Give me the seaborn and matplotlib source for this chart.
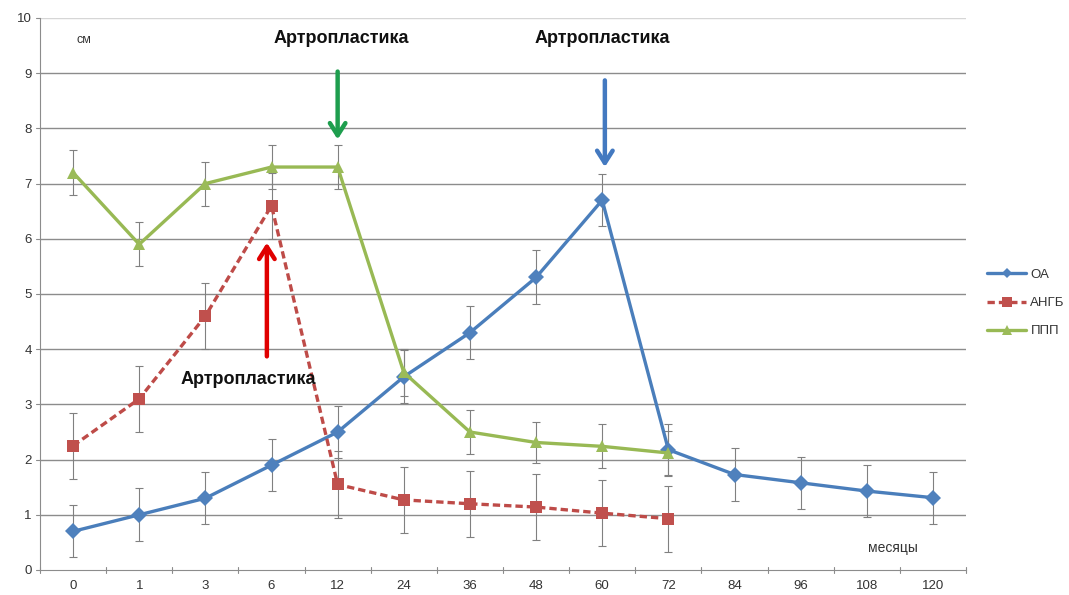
import numpy as np
import pandas as pd
import matplotlib
matplotlib.use("Agg")
import matplotlib.pyplot as plt
import seaborn as sns
from matplotlib.lines import Line2D

months = ["0", "1", "3", "6", "12", "24", "36", "48", "60", "72", "84", "96", "108", "120"]

oa = [0.7, 1.0, 1.3, 1.9, 2.5, 3.5, 4.3, 5.3, 6.7, 2.18, 1.73, 1.58, 1.43, 1.31]
oa_err = [0.47, 0.48, 0.47, 0.47, 0.48, 0.48, 0.48, 0.49, 0.47, 0.47, 0.48, 0.47, 0.47, 0.47]

angb = [2.25, 3.1, 4.6, 6.6, 1.55, 1.27, 1.2, 1.14, 1.03, 0.93]
angb_err = [0.6, 0.6, 0.6, 0.6, 0.6, 0.6, 0.6, 0.6, 0.6, 0.6]

ppp = [7.2, 5.9, 7.0, 7.3, 7.3, 3.58, 2.5, 2.31, 2.24, 2.12]
ppp_err = [0.4, 0.4, 0.4, 0.4, 0.4, 0.42, 0.4, 0.38, 0.4, 0.4]

series_names = ["ОА", "АНГБ", "ППП"]
colors = {"ОА": "#4A7EBB", "АНГБ": "#BE4B48", "ППП": "#98B954"}
marker_colors = {"ОА": "#4F81BD", "АНГБ": "#C0504D", "ППП": "#9BBB59"}

rows = []
for name, vals in zip(series_names, [oa, angb, ppp]):
    for i, v in enumerate(vals):
        rows.append({"pos": i, "month": months[i], "value": v, "series": name})
df = pd.DataFrame(rows)

sns.set_theme(style="white")
plt.rcParams["font.family"] = ["Liberation Sans", "DejaVu Sans"]

fig = plt.figure(figsize=(10.69, 5.95), dpi=100)
ax = fig.add_axes([40 / 1069, 1 - 570 / 595, (966 - 40) / 1069, (570 - 18) / 595])

# gridlines
for yv in range(1, 11):
    ax.axhline(yv, color="#8c8c8c" if yv < 10 else "#d6d6d6", lw=1.0, zorder=0)

# error bars
errs = {"ОА": (oa, oa_err), "АНГБ": (angb, angb_err), "ППП": (ppp, ppp_err)}
for name in series_names:
    vals, e = errs[name]
    ax.errorbar(np.arange(len(vals)), vals, yerr=e, fmt="none", ecolor="#808080",
                elinewidth=0.8, capsize=3, capthick=0.8, zorder=2)

sns.lineplot(data=df, x="pos", y="value", hue="series", style="series",
             hue_order=series_names, style_order=series_names,
             palette=colors, markers={"ОА": "D", "АНГБ": "s", "ППП": "^"},
             dashes={"ОА": "", "АНГБ": (2.2, 1.2), "ППП": ""},
             linewidth=2.4, markersize=8.5, markeredgewidth=0, ax=ax, zorder=3,
             legend=False)

for line, name in zip(ax.get_lines()[-3:], series_names):
    line.set_markerfacecolor(marker_colors[name])
    line.set_markeredgecolor(marker_colors[name])

ax.set_xlim(-0.5, 13.5)
ax.set_ylim(0, 10)
ax.set_xticks(range(len(months)))
ax.set_xticklabels(months)
ax.set_yticks(range(0, 11))
ax.set_xlabel("")
ax.set_ylabel("")
ax.tick_params(axis="both", labelsize=9.5, colors="#333333", length=0, pad=6)
ax.tick_params(axis="x", pad=7)

# category boundary ticks on x axis, outward ticks on y axis
for xb in np.arange(-0.5, 14, 1):
    ax.plot([xb, xb], [0.06, -0.06], color="#8c8c8c", lw=0.8, clip_on=False, zorder=1)
for yv in range(0, 11):
    ax.plot([-0.5, -0.56], [yv, yv], color="#8c8c8c", lw=0.8, clip_on=False, zorder=1)

for s in ["top", "right"]:
    ax.spines[s].set_visible(False)
ax.spines["left"].set_color("#8c8c8c")
ax.spines["bottom"].set_color("#8c8c8c")
ax.spines["left"].set_linewidth(0.8)
ax.spines["bottom"].set_linewidth(0.8)

# annotations
ax.text(0.05, 9.6, "см", fontsize=9, color="#333333", ha="left", va="center")
ax.text(12.4, 0.4, "месяцы", fontsize=10, color="#333333", ha="center", va="center")

bold = dict(fontsize=13, fontweight="bold", color="#111111", ha="center", va="center")
ax.text(4.05, 9.62, "Артропластика", **bold)
ax.text(8.0, 9.62, "Артропластика", **bold)
ax.text(2.65, 3.45, "Артропластика", **bold)

arrow_kw = dict(arrowstyle="->,head_length=0.55,head_width=0.35", lw=3.2,
                shrinkA=0, shrinkB=0, mutation_scale=16)
ax.annotate("", xy=(4.0, 7.8), xytext=(4.0, 9.03),
            arrowprops=dict(color="#1E9E4E", **arrow_kw))
ax.annotate("", xy=(8.04, 7.3), xytext=(8.04, 8.87),
            arrowprops=dict(color="#4379C0", **arrow_kw))
ax.annotate("", xy=(2.93, 5.93), xytext=(2.93, 3.87),
            arrowprops=dict(color="#E00000", **arrow_kw))

# legend
handles = [
    Line2D([], [], color=colors["ОА"], lw=2.4, marker="D", markersize=5,
           markerfacecolor=marker_colors["ОА"], markeredgewidth=0),
    Line2D([], [], color=colors["АНГБ"], lw=2.4, ls=(0, (2.2, 1.2)), marker="s", markersize=6.5,
           markerfacecolor=marker_colors["АНГБ"], markeredgewidth=0),
    Line2D([], [], color=colors["ППП"], lw=2.4, marker="^", markersize=6.5,
           markerfacecolor=marker_colors["ППП"], markeredgewidth=0),
]
fig.legend(handles, series_names, loc="center left", bbox_to_anchor=(975 / 1069, 1 - 303 / 595),
           frameon=False, fontsize=9.5, handlelength=3.0, handletextpad=0.3, labelspacing=1.2,
           labelcolor="#333333")

fig.savefig("out.png", dpi=100)
